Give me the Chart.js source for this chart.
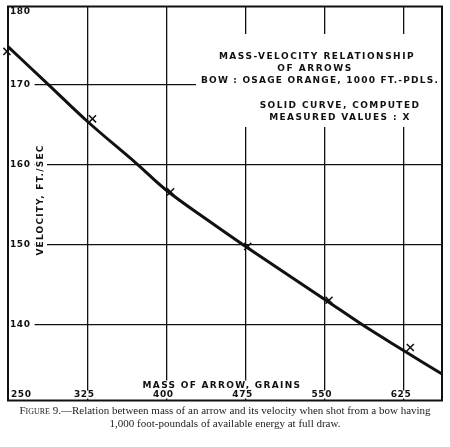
<!DOCTYPE html>
<html>
<head>
<meta charset="utf-8">
<script src="https://cdn.jsdelivr.net/npm/chart.js@4/dist/chart.umd.min.js"></script>
<style>
  body { margin: 0; background: #fff; }
  #wrap { width: 450px; height: 407px; }
  .caption {
    font-family: "Liberation Serif", "DejaVu Serif", serif;
    font-size: 11px;
    line-height: 13px;
    color: #222;
    text-align: center;
    width: 450px;
    white-space: nowrap;
    margin-top: -3px;
  }
  .sc { font-variant: small-caps; }
</style>
</head>
<body>
<div id="wrap"><canvas id="chart" width="450" height="407"></canvas></div>
<div class="caption"><span class="sc">Figure 9.</span>—Relation between mass of an arrow and its velocity when shot from a bow having<br>1,000 foot-poundals of available energy at full draw.</div>
<script>
// computed curve
const curveMass = [250, 288, 325, 372, 400, 440, 475, 550, 586, 625, 661];
const curveVelocity = [174.7, 170.0, 165.4, 160.1, 156.8, 153.0, 149.8, 143.2, 140.0, 136.8, 133.9];

// measured values, the X marks
const measuredMass = [249, 330, 404, 477, 554, 631];
const measuredVelocity = [174.1, 165.7, 156.6, 149.8, 143.1, 137.2];

const massTicks = [250, 325, 400, 475, 550, 625];
const velocityTicks = [140, 150, 160, 170, 180];

const titleLines = ["MASS-VELOCITY RELATIONSHIP", "OF ARROWS", "BOW : OSAGE ORANGE, 1000 FT.-PDLS."];
const noteLines = ["SOLID CURVE, COMPUTED", "MEASURED VALUES : X"];
const xTitle = "MASS OF ARROW, GRAINS";
const yTitle = "VELOCITY, FT./SEC";

const LETTER = 'bold 9px "DejaVu Sans", sans-serif';

function label(ctx, text, x, y, align, spacing, pad, h) {
  ctx.save();
  ctx.font = LETTER;
  ctx.letterSpacing = spacing + "px";
  ctx.textAlign = align;
  ctx.textBaseline = "middle";
  const w = ctx.measureText(text).width;
  let left = x;
  if (align === "center") left = x - w / 2;
  if (align === "right") left = x - w;
  ctx.fillStyle = "#fff";
  ctx.fillRect(left - pad, y - h / 2, w + pad * 2, h);
  ctx.fillStyle = "#111";
  ctx.fillText(text, x, y);
  ctx.restore();
}

const lettering = {
  id: "lettering",
  afterDraw(chart) {
    const ctx = chart.ctx;
    const a = chart.chartArea;
    const xs = chart.scales.x;
    const ys = chart.scales.y;

    // white panel for the legend text
    ctx.fillStyle = "#fff";
    ctx.fillRect(196, 34, a.right - 197, 93);

    ctx.save();
    ctx.font = LETTER;
    ctx.fillStyle = "#111";
    ctx.textAlign = "center";
    ctx.textBaseline = "middle";
    ctx.letterSpacing = "1.5px";
    ctx.fillText(titleLines[0], 317, 57);
    ctx.fillText(titleLines[1], 315, 69);
    ctx.letterSpacing = "1.2px";
    ctx.fillText(titleLines[2], 320, 81);
    ctx.letterSpacing = "1.4px";
    ctx.fillText(noteLines[0], 340, 106);
    ctx.fillText(noteLines[1], 340, 118);
    ctx.restore();

    // y tick labels
    velocityTicks.forEach(v => {
      const y = Math.max(ys.getPixelForValue(v), a.top + 5);
      label(ctx, String(v), 10, y, "left", 0.6, 4, 11);
    });

    // x axis title, then tick labels just under it
    label(ctx, xTitle, a.left + a.width * 0.493, a.bottom - 15, "center", 1.3, 5, 10);
    massTicks.forEach((m, i) => {
      const y = a.bottom - 6;
      if (i === 0) label(ctx, String(m), a.left + 3, y, "left", 0.6, 2, 8);
      else label(ctx, String(m), xs.getPixelForValue(m) - 3, y, "center", 0.6, 3, 8);
    });

    ctx.save();
    ctx.translate(41, 200);
    ctx.rotate(-Math.PI / 2);
    label(ctx, yTitle, 0, 0, "center", 1.2, 6, 12);
    ctx.restore();

    // frame
    ctx.save();
    ctx.strokeStyle = "#111";
    ctx.lineWidth = 2;
    ctx.strokeRect(a.left, a.top, a.width, a.height);
    ctx.restore();
  }
};

new Chart(document.getElementById("chart"), {
  type: "scatter",
  data: {
    datasets: [
      {
        label: "Computed",
        data: curveMass.map((m, i) => ({ x: m, y: curveVelocity[i] })),
        showLine: true,
        borderColor: "#111",
        borderWidth: 3,
        pointRadius: 0,
        tension: 0.4,
        order: 2
      },
      {
        label: "Measured",
        data: measuredMass.map((m, i) => ({ x: m, y: measuredVelocity[i] })),
        showLine: false,
        pointStyle: "crossRot",
        pointRadius: 5,
        borderColor: "#111",
        borderWidth: 1.5,
        order: 1
      }
    ]
  },
  options: {
    responsive: false,
    animation: false,
    clip: false,
    layout: { padding: { left: 8, right: 8, top: 2.3, bottom: 0 } },
    plugins: { legend: { display: false }, tooltip: { enabled: false } },
    scales: {
      x: {
        type: "linear",
        min: 250,
        max: 661,
        afterBuildTicks: s => { s.ticks = massTicks.slice(1).map(v => ({ value: v })); },
        ticks: { display: false },
        grid: { color: "#111", lineWidth: 1.3, drawTicks: false },
        border: { display: false }
      },
      y: {
        type: "linear",
        min: 130.6,
        max: 179.7,
        afterBuildTicks: s => { s.ticks = velocityTicks.slice(0, 4).map(v => ({ value: v })); },
        ticks: { display: false },
        grid: { color: "#111", lineWidth: 1.3, drawTicks: false },
        border: { display: false }
      }
    }
  },
  plugins: [lettering]
});
</script>
</body>
</html>
